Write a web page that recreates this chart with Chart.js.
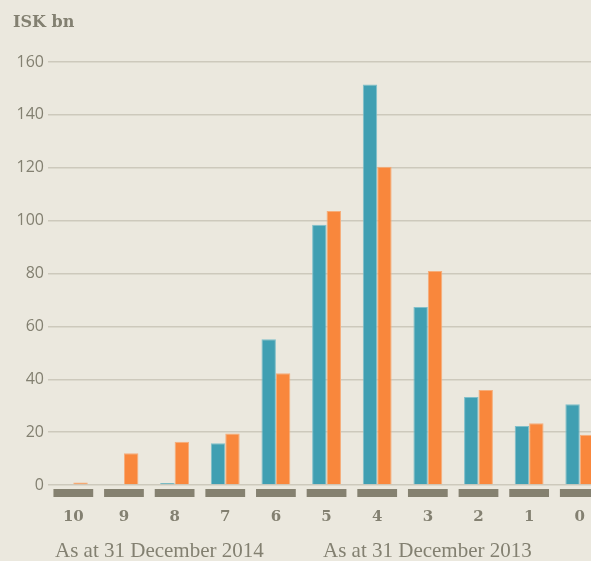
<!DOCTYPE html>
<html>
<head>
<meta charset="utf-8">
<script src="https://cdn.jsdelivr.net/npm/chart.js@4.4.1/dist/chart.umd.min.js"></script>
<style>
  html, body { margin: 0; padding: 0; background: #ebe8de; overflow: hidden; }
  #wrap { position: relative; width: 608px; height: 561px; }
</style>
</head>
<body>
<div id="wrap"><canvas id="c" width="608" height="561"></canvas></div>
<script>
// Maturity buckets (years) and balances in ISK bn
const categories = ['10', '9', '8', '7', '6', '5', '4', '3', '2', '1', '0'];
const values2014 = [0, 0, 0.8, 15.8, 55.1, 98.4, 151.5, 67.3, 33.3, 22.3, 30.5];
const values2013 = [0.9, 12.0, 16.4, 19.5, 42.3, 103.6, 120.4, 80.9, 35.9, 23.4, 19.0];
const seriesLabels = ['As at 31 December 2014', 'As at 31 December 2013'];
const yTicks = [0, 20, 40, 60, 80, 100, 120, 140, 160];
const unitLabel = 'ISK bn';

const TEXT = '#838071';

// Grey markers under each bucket, axis unit and series captions
const decorations = {
  id: 'decorations',
  afterDraw(chart) {
    const ctx = chart.ctx;
    const x = chart.scales.x;
    const area = chart.chartArea;
    const step = x.getPixelForValue(1) - x.getPixelForValue(0);
    const w = step * 0.785;
    ctx.save();
    ctx.fillStyle = '#858170';
    categories.forEach((c, i) => {
      const cx = x.getPixelForValue(i);
      ctx.fillRect(cx - w / 2, area.bottom + 4, w, 8);
    });
    ctx.fillStyle = TEXT;
    ctx.textBaseline = 'middle';
    ctx.textAlign = 'left';
    ctx.font = 'bold 16px "DejaVu Serif"';
    ctx.fillText(unitLabel, 13, 23);
    ctx.font = '21px "Liberation Serif"';
    ctx.fillText(seriesLabels[0], area.left + 7, 551);
    ctx.fillText(seriesLabels[1], area.left + 275, 551);
    ctx.restore();
  }
};

new Chart(document.getElementById('c'), {
  type: 'bar',
  data: {
    labels: categories,
    datasets: [
      {
        label: seriesLabels[0],
        data: values2014,
        backgroundColor: '#409fb2',
        borderColor: '#7fbfca',
        borderWidth: 1,
        barPercentage: 1,
        categoryPercentage: 0.57
      },
      {
        label: seriesLabels[1],
        data: values2013,
        backgroundColor: '#f9873c',
        borderColor: '#f6ad7a',
        borderWidth: 1,
        barPercentage: 1,
        categoryPercentage: 0.57
      }
    ]
  },
  options: {
    responsive: false,
    animation: false,
    layout: { padding: { top: 62, right: 0, bottom: 12, left: 0 } },
    plugins: {
      legend: { display: false },
      tooltip: { enabled: false }
    },
    scales: {
      x: {
        grid: { display: false, drawTicks: false },
        border: { display: false },
        ticks: {
          color: TEXT,
          font: { family: '"DejaVu Serif"', size: 15, weight: 'bold' },
          padding: 23
        }
      },
      y: {
        min: 0,
        max: 160,
        afterFit(scale) { scale.width = 48; },
        afterBuildTicks(scale) { scale.ticks = yTicks.map(v => ({ value: v })); },
        grid: { color: '#cdc9bc', lineWidth: 1.5, drawTicks: false },
        border: { display: false },
        ticks: {
          color: TEXT,
          font: { family: '"Open Sans"', size: 16 },
          padding: 4
        }
      }
    }
  },
  plugins: [decorations]
});
</script>
</body>
</html>
